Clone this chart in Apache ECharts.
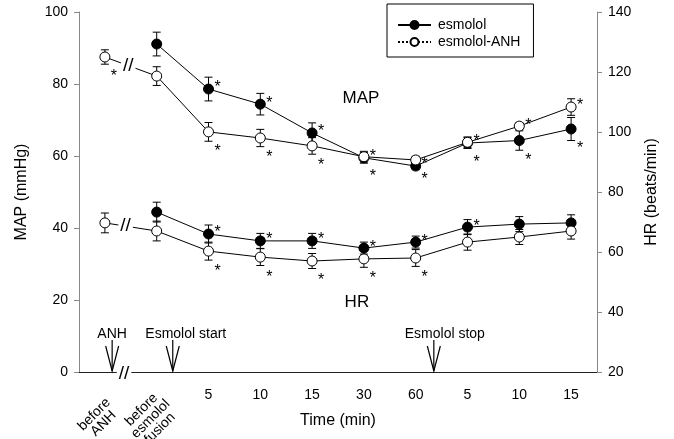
<!DOCTYPE html>
<html>
<head>
<meta charset="UTF-8">
<title>MAP and HR, esmolol vs esmolol-ANH</title>
<style>
    html, body { margin: 0; padding: 0; background: #fff; }
    #chart { width: 674px; height: 439px; }
</style>
<script src="https://cdn.jsdelivr.net/npm/echarts@6.0.0/dist/echarts.min.js"></script>
</head>
<body>
<div id="chart"></div>
<script>
    // time points
    const categories = ['before ANH', 'before esmolol fusion', '5', '10', '15', '30', '60', '5', '10', '15'];
    const rotatedLabels = ['before\nANH', 'before\nesmolol\nfusion'];

    // MAP (mmHg) - left axis
    const mapEsmolol    = [null, 91.1, 78.6, 74.4, 66.4, 59.5, 57.2, 63.6, 64.3, 67.5];
    const mapEsmololErr = [null, 3.3, 3.3, 3.0, 2.8, 1.5, 1.0, 1.5, 2.7, 3.2];
    const mapAnh        = [87.5, 82.2, 66.7, 65.0, 62.8, 59.8, 58.9, 63.8, 68.3, 73.6];
    const mapAnhErr     = [2.0, 2.6, 2.6, 2.4, 2.3, 1.5, 1.0, 1.5, 1.0, 2.3];

    // HR (beats/min) - right axis
    const hrEsmolol    = [null, 73.3, 66.0, 63.7, 63.7, 61.3, 63.3, 68.3, 69.3, 69.7];
    const hrEsmololErr = [null, 3.3, 3.0, 2.5, 2.5, 2.0, 2.0, 2.5, 2.5, 2.7];
    const hrAnh        = [69.7, 67.0, 60.3, 58.3, 57.0, 57.7, 58.0, 63.3, 65.0, 67.0];
    const hrAnhErr     = [3.3, 3.3, 3.0, 2.8, 2.5, 2.8, 2.8, 2.7, 2.5, 2.7];

    // significance stars: 1 = above right, -1 = below right, 0 = none
    const mapEsmololStar = [0, 0, 1, 1, 1, 1, 1, 1, -1, -1];
    const mapAnhStar     = [-1, 0, -1, -1, -1, -1, -1, -1, 1, 1];
    const hrEsmololStar  = [0, 0, 1, 1, 1, 1, 1, 1, 0, 0];
    const hrAnhStar      = [0, 0, -1, -1, -1, -1, -1, 0, 0, 0];

    const mapTicks = [0, 20, 40, 60, 80, 100];
    const hrTicks  = [20, 40, 60, 80, 100, 120, 140];

    const FONT = 'Liberation Sans, Arial, sans-serif';

    const chart = echarts.init(document.getElementById('chart'));

    function lineSeries(name, vals, yIdx, filled) {
        return {
            name: name,
            type: 'line',
            yAxisIndex: yIdx,
            data: vals,
            symbol: 'circle',
            symbolSize: 10,
            showSymbol: true,
            z: 3,
            lineStyle: { color: '#000', width: 1 },
            itemStyle: { color: filled ? '#000' : '#fff', borderColor: '#000', borderWidth: 1 },
            emphasis: { disabled: true }
        };
    }

    // error bars + stars
    function errSeries(vals, errs, stars, yIdx) {
        const data = [];
        vals.forEach((v, i) => {
            if (v != null) data.push([i, v, errs[i], stars[i]]);
        });
        return {
            type: 'custom',
            yAxisIndex: yIdx,
            z: 2,
            silent: true,
            encode: { x: 0, y: 1 },
            data: data,
            renderItem: function (params, api) {
                const i = api.value(0), v = api.value(1), e = api.value(2), s = api.value(3);
                const p = api.coord([i, v]);
                const top = api.coord([i, v + e]);
                const bot = api.coord([i, v - e]);
                const cap = 4;
                const st = { stroke: '#000', lineWidth: 1 };
                const children = [
                    { type: 'line', shape: { x1: p[0], y1: top[1], x2: p[0], y2: bot[1] }, style: st },
                    { type: 'line', shape: { x1: p[0] - cap, y1: top[1], x2: p[0] + cap, y2: top[1] }, style: st },
                    { type: 'line', shape: { x1: p[0] - cap, y1: bot[1], x2: p[0] + cap, y2: bot[1] }, style: st }
                ];
                if (s) {
                    children.push({
                        type: 'text',
                        x: p[0] + 9,
                        y: p[1] + (s > 0 ? -1 : 20),
                        style: {
                            text: '*', fill: '#000', font: '16px ' + FONT,
                            align: 'center', verticalAlign: 'middle'
                        }
                    });
                }
                return { type: 'group', children: children };
            }
        };
    }

    const option = {
        animation: false,
        backgroundColor: '#fff',
        textStyle: { fontFamily: FONT },
        grid: { left: 79, right: 77, top: 12, bottom: 67 },
        legend: {
            data: [
                { name: 'esmolol' },
                { name: 'esmolol-ANH', lineStyle: { type: 'dotted' } }
            ],
            orient: 'vertical',
            left: 387,
            top: 4,
            padding: [14, 13, 8, 10],
            itemGap: 3,
            itemWidth: 33,
            itemHeight: 10,
            borderColor: '#000',
            borderWidth: 1,
            textStyle: { fontSize: 14, color: '#000', fontFamily: FONT, padding: [0, 0, 0, 2] }
        },
        xAxis: {
            type: 'category',
            data: categories,
            boundaryGap: true,
            name: 'Time (min)',
            nameLocation: 'middle',
            nameGap: 41,
            nameTextStyle: { fontSize: 16, color: '#000' },
            axisLine: { lineStyle: { color: '#222', width: 1 } },
            axisTick: { alignWithLabel: true, length: 4, lineStyle: { color: '#222' } },
            axisLabel: {
                fontSize: 14, color: '#000', margin: 16, interval: 0,
                formatter: (val, idx) => idx < rotatedLabels.length ? '' : val
            },
            splitLine: { show: false }
        },
        yAxis: [
            {
                type: 'value',
                position: 'left',
                min: mapTicks[0],
                max: mapTicks[mapTicks.length - 1],
                interval: mapTicks[1] - mapTicks[0],
                name: 'MAP (mmHg)',
                nameLocation: 'middle',
                nameRotate: 90,
                nameGap: 49,
                nameTextStyle: { fontSize: 16, color: '#000' },
                axisLine: { show: true, lineStyle: { color: '#888' } },
                axisTick: { show: true, length: 5, lineStyle: { color: '#888' } },
                axisLabel: { fontSize: 14, color: '#000', margin: 11 },
                splitLine: { show: false }
            },
            {
                type: 'value',
                position: 'right',
                min: hrTicks[0],
                max: hrTicks[hrTicks.length - 1],
                interval: hrTicks[1] - hrTicks[0],
                name: 'HR (beats/min)',
                nameLocation: 'middle',
                nameRotate: 90,
                nameGap: 47,
                nameTextStyle: { fontSize: 16, color: '#000' },
                axisLine: { show: true, lineStyle: { color: '#888' } },
                axisTick: { show: true, length: 5, lineStyle: { color: '#888' } },
                axisLabel: { fontSize: 14, color: '#000', margin: 11 },
                splitLine: { show: false }
            }
        ],
        series: [
            errSeries(mapEsmolol, mapEsmololErr, mapEsmololStar, 0),
            errSeries(mapAnh, mapAnhErr, mapAnhStar, 0),
            errSeries(hrEsmolol, hrEsmololErr, hrEsmololStar, 1),
            errSeries(hrAnh, hrAnhErr, hrAnhStar, 1),
            lineSeries('esmolol', mapEsmolol, 0, true),
            lineSeries('esmolol-ANH', mapAnh, 0, false),
            lineSeries('esmolol', hrEsmolol, 1, true),
            lineSeries('esmolol-ANH', hrAnh, 1, false)
        ]
    };

    chart.setOption(option);

    // annotations: positions derived from the axes
    function px(i, v, yIdx) {
        return chart.convertToPixel({ xAxisIndex: 0, yAxisIndex: yIdx }, [i, v]);
    }
    function between(i, frac, vals, yIdx) {
        const a = px(i, vals[i], yIdx), b = px(i + 1, vals[i + 1], yIdx);
        return [a[0] + (b[0] - a[0]) * frac, a[1] + (b[1] - a[1]) * frac];
    }
    function xAt(pos) {
        const i = Math.floor(pos);
        const a = px(i, mapTicks[0], 0)[0], b = px(i + 1, mapTicks[0], 0)[0];
        return a + (b - a) * (pos - i);
    }
    const axisY = px(0, mapTicks[0], 0)[1];

    const graphics = [];
    function breakMark(x, y) {
        graphics.push({
            type: 'text', x: x, y: y, z: 100,
            style: {
                text: '//', font: '19px ' + FONT, fill: '#000',
                align: 'center', verticalAlign: 'middle',
                backgroundColor: '#fff', padding: [0, 2]
            }
        });
    }
    breakMark.apply(null, between(0, 0.45, mapAnh, 0));
    breakMark.apply(null, between(0, 0.4, hrAnh, 1));
    breakMark(xAt(0.37), axisY + 2);

    function arrow(pos, label, dx) {
        const x = xAt(pos);
        graphics.push({
            type: 'text', x: x + dx, y: axisY - 38, z: 100,
            style: { text: label, font: '14px ' + FONT, fill: '#000', align: 'center', verticalAlign: 'middle' }
        });
        graphics.push({
            type: 'line', z: 100,
            shape: { x1: x, y1: axisY - 32, x2: x, y2: axisY - 1 },
            style: { stroke: '#000', lineWidth: 1.2 }
        });
        graphics.push({
            type: 'polyline', z: 100,
            shape: { points: [[x - 6.5, axisY - 26], [x, axisY - 1], [x + 6.5, axisY - 26]] },
            style: { stroke: '#000', lineWidth: 1.2, fill: null }
        });
    }
    arrow(0.14, 'ANH', 0);
    arrow(1.31, 'Esmolol start', 13);
    arrow(6.35, 'Esmolol stop', 11);

    // rotated category labels for the first two time points
    rotatedLabels.forEach((txt, i) => {
        const x = xAt(i);
        graphics.push({
            type: 'text', x: x - 6, y: axisY + 47, z: 100,
            rotation: Math.PI / 4,
            style: {
                text: txt, font: '14px ' + FONT, fill: '#000',
                align: 'center', verticalAlign: 'middle', lineHeight: 13
            }
        });
    });

    // panel labels
    const mapPos = px(5, 76, 0);
    graphics.push({
        type: 'text', x: mapPos[0] - 3, y: mapPos[1], z: 100,
        style: { text: 'MAP', font: '17px ' + FONT, fill: '#000', align: 'center', verticalAlign: 'middle' }
    });
    const hrPos = px(5, 43.3, 1);
    graphics.push({
        type: 'text', x: hrPos[0] - 7, y: hrPos[1], z: 100,
        style: { text: 'HR', font: '17px ' + FONT, fill: '#000', align: 'center', verticalAlign: 'middle' }
    });

    chart.setOption({ graphic: graphics });
</script>
</body>
</html>
